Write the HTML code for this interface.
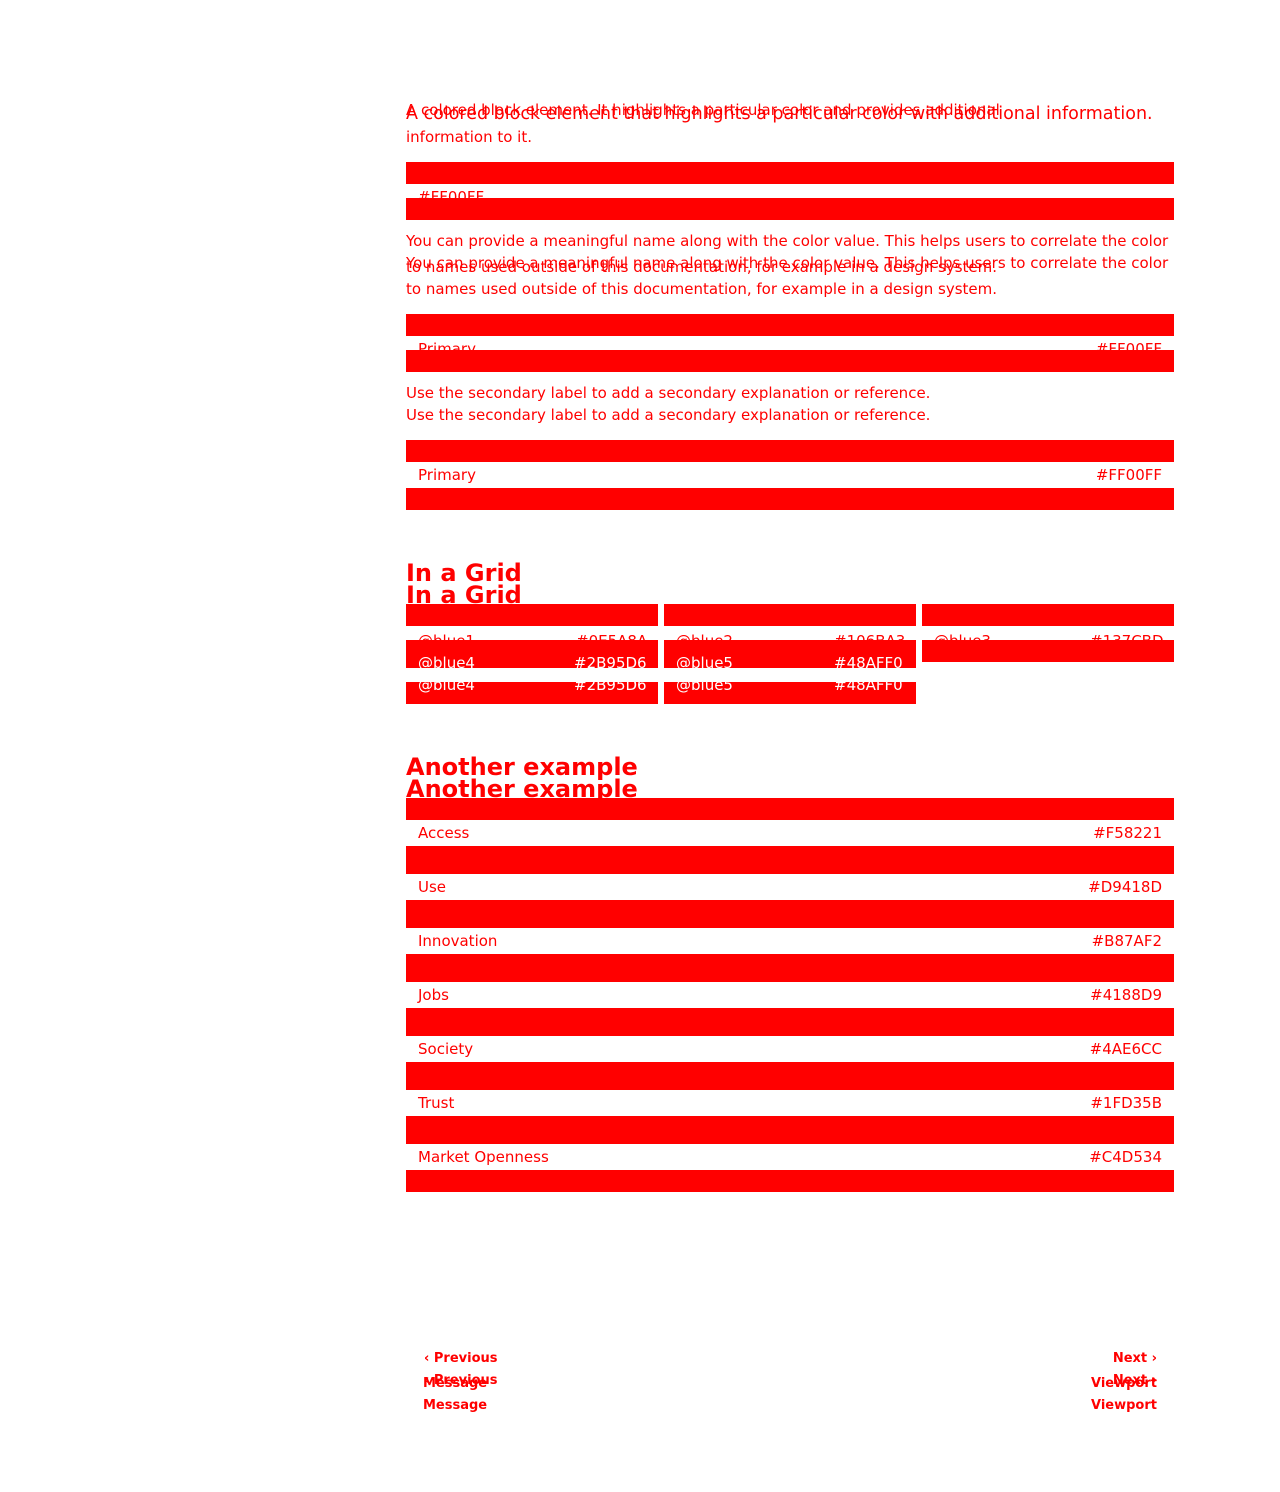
<!DOCTYPE html>
<html><head><meta charset="utf-8"><style>
body{margin:0;width:1280px;height:1492px;background:#fff;position:relative;overflow:hidden;font-family:"DejaVu Sans","Liberation Sans",sans-serif;color:#f00}
.t{position:absolute;left:406px;font-size:15px;line-height:18px;white-space:nowrap}
.h{position:absolute;left:406px;font-size:24px;font-weight:bold;line-height:28px;white-space:nowrap}
.r{position:absolute;background:#f00}
.l{position:absolute;font-size:15px;line-height:18px;white-space:nowrap}
.w{color:#fff}
.b{font-weight:bold;font-size:13px}
</style></head><body>
<div class="t" style="top:101px">A colored block element. It highlights a particular color and provides additional</div>
<div class="t" style="top:104px;font-size:17.5px;line-height:20px">A colored block element that highlights a particular color with additional information.</div>
<div class="t" style="top:128px">information to it.</div>
<div class="l" style="left:418px;top:188px">#FF00FF</div>
<div class="r" style="left:406px;top:162px;width:768px;height:22px"></div>
<div class="r" style="left:406px;top:198px;width:768px;height:22px"></div>
<div class="t" style="top:232px">You can provide a meaningful name along with the color value. This helps users to correlate the color</div>
<div class="t" style="top:254px">You can provide a meaningful name along with the color value. This helps users to correlate the color</div>
<div class="t" style="top:258px">to names used outside of this documentation, for example in a design system.</div>
<div class="t" style="top:280px">to names used outside of this documentation, for example in a design system.</div>
<div class="l" style="left:418px;top:340px">Primary</div>
<div class="l" style="right:118px;top:340px">#FF00FF</div>
<div class="r" style="left:406px;top:314px;width:768px;height:22px"></div>
<div class="r" style="left:406px;top:350px;width:768px;height:22px"></div>
<div class="t" style="top:384px">Use the secondary label to add a secondary explanation or reference.</div>
<div class="t" style="top:406px">Use the secondary label to add a secondary explanation or reference.</div>
<div class="r" style="left:406px;top:440px;width:768px;height:22px"></div>
<div class="l" style="left:418px;top:466px">Primary</div>
<div class="l" style="right:118px;top:466px">#FF00FF</div>
<div class="r" style="left:406px;top:488px;width:768px;height:22px"></div>

<div class="h" style="top:559px">In a Grid</div>
<div class="h" style="top:581px">In a Grid</div>
<div class="l" style="left:418px;top:632px">@blue1</div><div class="l" style="left:576px;top:632px">#0E5A8A</div>
<div class="l" style="left:676px;top:632px">@blue2</div><div class="l" style="left:834px;top:632px">#106BA3</div>
<div class="l" style="left:934px;top:632px">@blue3</div><div class="l" style="left:1090px;top:632px">#137CBD</div>
<div class="r" style="left:406px;top:604px;width:252px;height:22px"></div>
<div class="r" style="left:406px;top:640px;width:252px;height:28px"></div>
<div class="r" style="left:406px;top:682px;width:252px;height:22px"></div>
<div class="l w" style="left:418px;top:654px">@blue4</div><div class="l w" style="left:574px;top:654px">#2B95D6</div>
<div class="l w" style="left:418px;top:676px">@blue4</div><div class="l w" style="left:574px;top:676px">#2B95D6</div>
<div class="r" style="left:664px;top:604px;width:252px;height:22px"></div>
<div class="r" style="left:664px;top:640px;width:252px;height:28px"></div>
<div class="r" style="left:664px;top:682px;width:252px;height:22px"></div>
<div class="l w" style="left:676px;top:654px">@blue5</div><div class="l w" style="left:834px;top:654px">#48AFF0</div>
<div class="l w" style="left:676px;top:676px">@blue5</div><div class="l w" style="left:834px;top:676px">#48AFF0</div>
<div class="r" style="left:922px;top:604px;width:252px;height:22px"></div>
<div class="r" style="left:922px;top:640px;width:252px;height:22px"></div>

<div class="h" style="top:753px">Another example</div>
<div class="h" style="top:775px">Another example</div>
<div class="r" style="left:406px;top:798px;width:768px;height:22px"></div>
<div class="l" style="left:418px;top:824px">Access</div><div class="l" style="right:118px;top:824px">#F58221</div>
<div class="r" style="left:406px;top:846px;width:768px;height:28px"></div>
<div class="l" style="left:418px;top:878px">Use</div><div class="l" style="right:118px;top:878px">#D9418D</div>
<div class="r" style="left:406px;top:900px;width:768px;height:28px"></div>
<div class="l" style="left:418px;top:932px">Innovation</div><div class="l" style="right:118px;top:932px">#B87AF2</div>
<div class="r" style="left:406px;top:954px;width:768px;height:28px"></div>
<div class="l" style="left:418px;top:986px">Jobs</div><div class="l" style="right:118px;top:986px">#4188D9</div>
<div class="r" style="left:406px;top:1008px;width:768px;height:28px"></div>
<div class="l" style="left:418px;top:1040px">Society</div><div class="l" style="right:118px;top:1040px">#4AE6CC</div>
<div class="r" style="left:406px;top:1062px;width:768px;height:28px"></div>
<div class="l" style="left:418px;top:1094px">Trust</div><div class="l" style="right:118px;top:1094px">#1FD35B</div>
<div class="r" style="left:406px;top:1116px;width:768px;height:28px"></div>
<div class="l" style="left:418px;top:1148px">Market Openness</div><div class="l" style="right:118px;top:1148px">#C4D534</div>
<div class="r" style="left:406px;top:1170px;width:768px;height:22px"></div>

<div class="l b" style="left:424px;top:1350px">‹ Previous</div>
<div class="l b" style="left:424px;top:1372px">‹ Previous</div>
<div class="l b" style="left:423px;top:1375px">Message</div>
<div class="l b" style="left:423px;top:1397px">Message</div>
<div class="l b" style="right:123px;top:1350px">Next ›</div>
<div class="l b" style="right:123px;top:1372px">Next ›</div>
<div class="l b" style="right:123px;top:1375px">Viewport</div>
<div class="l b" style="right:123px;top:1397px">Viewport</div>
</body></html>
